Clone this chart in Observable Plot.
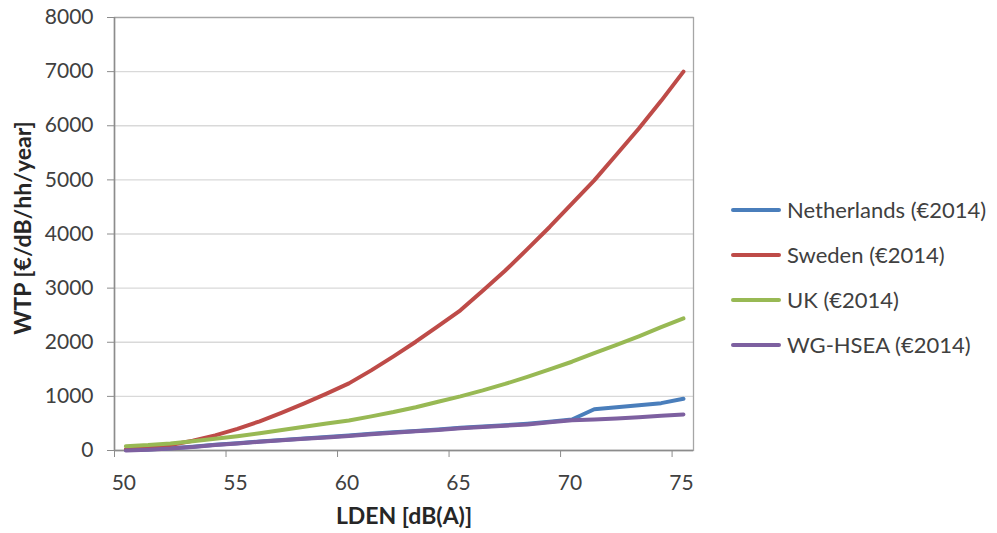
<!DOCTYPE html>
<html>
<head>
<meta charset="utf-8">
<script src="https://cdn.jsdelivr.net/npm/d3@7"></script>
<script src="https://cdn.jsdelivr.net/npm/@observablehq/plot@0.6"></script>
<style>
  body { margin: 0; background: #fff; font-family: Lato, sans-serif; }
  #wrap { position: relative; width: 997px; height: 533px; }
  #legend { position: absolute; left: 731px; top: 187px; }
  .row { display: flex; align-items: center; height: 45px; font-size: 22px; color: #404040; white-space: nowrap; }
  .sw { width: 50px; height: 4px; border-radius: 2px; margin-right: 6px; }
</style>
</head>
<body>
<div id="wrap"><div id="chart"></div><div id="legend"></div></div>
<script>
const dB = [50,51,52,53,54,55,56,57,58,59,60,61,62,63,64,65,66,67,68,69,70,71,72,73,74,75];
const netherlands = [10,20,40,70,105,135,165,195,222,248,278,308,338,362,388,420,442,467,495,532,572,763,800,838,875,957];
const sweden = [20,50,100,180,280,400,540,700,870,1050,1240,1480,1740,2010,2300,2590,2950,3320,3720,4130,4560,4990,5470,5950,6460,7000];
const uk = [80,100,130,170,215,265,320,380,440,500,555,630,710,800,900,1000,1110,1230,1360,1500,1640,1800,1950,2110,2280,2440];
const wgHsea = [0,15,35,65,100,130,160,190,215,240,270,300,330,355,380,410,432,457,482,520,558,575,593,615,640,665];

const seriesNames = ["Netherlands (€2014)", "Sweden (€2014)", "UK (€2014)", "WG-HSEA (€2014)"];
const seriesColors = ["#4A7EBB", "#BE4B48", "#98B954", "#7D60A0"];
const seriesValues = [netherlands, sweden, uk, wgHsea];

const yTicks = [0,1000,2000,3000,4000,5000,6000,7000,8000];
const xLabelTicks = [50,55,60,65,70,75];
const xTickMarks = [49.49,54.49,59.49,64.49,69.49,74.49];

const data = [];
seriesNames.forEach((name, i) => {
  dB.forEach((x, j) => data.push({series: name, x, y: seriesValues[i][j]}));
});

const chart = Plot.plot({
  width: 997,
  height: 533,
  marginLeft: 114,
  marginRight: 304,
  marginTop: 17,
  marginBottom: 83,
  x: {domain: [49.49, 75.45]},
  y: {domain: [0, 8000]},
  color: {domain: seriesNames, range: seriesColors},
  style: {fontFamily: "Lato, sans-serif", fontSize: "21px", color: "#404040", background: "#fff"},
  marks: [
    Plot.gridY(yTicks, {stroke: "#d9d9d9", strokeOpacity: 1, strokeWidth: 1.3}),
    Plot.frame({stroke: "#a6a6a6", strokeWidth: 1.3}),
    Plot.ruleX([49.49], {stroke: "#8c8c8c", strokeWidth: 1.5}),
    Plot.ruleY([0], {stroke: "#8c8c8c", strokeWidth: 1.5}),
    Plot.axisY({ticks: yTicks, tickSize: 7, tickPadding: 14, stroke: "#8c8c8c", strokeOpacity: 1, label: null, tickFormat: d => String(d)}),
    Plot.axisX({ticks: xTickMarks, tickSize: 7, tickFormat: () => "", stroke: "#8c8c8c", strokeOpacity: 1, label: null}),
    Plot.axisX({ticks: xLabelTicks, tickSize: 0, tickPadding: 25, label: null, tickFormat: d => String(d), dx: -2}),
    Plot.line(data, {x: "x", y: "y", z: "series", stroke: "series", strokeWidth: 4, strokeLinejoin: "round", strokeLinecap: "round"}),
    Plot.text(["WTP [€/dB/hh/year]"], {frameAnchor: "left", textAnchor: "middle", dx: -91, dy: -6, rotate: -90, fontWeight: "bold", fontSize: 23, fill: "#262626"}),
    Plot.text(["LDEN [dB(A)]"], {frameAnchor: "bottom", textAnchor: "middle", dy: 73, fontWeight: "bold", fontSize: 23, fill: "#262626"})
  ]
});
document.getElementById("chart").appendChild(chart);

const legend = document.getElementById("legend");
seriesNames.forEach((name, i) => {
  const row = document.createElement("div");
  row.className = "row";
  const sw = document.createElement("div");
  sw.className = "sw";
  sw.style.background = seriesColors[i];
  const label = document.createElement("span");
  label.textContent = name;
  row.appendChild(sw);
  row.appendChild(label);
  legend.appendChild(row);
});
</script>
</body>
</html>
